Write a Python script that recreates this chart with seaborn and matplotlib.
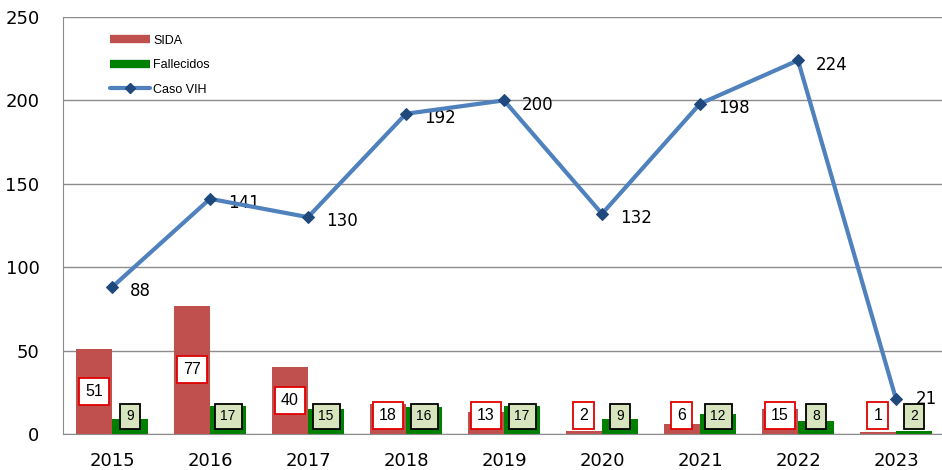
import matplotlib
matplotlib.use("Agg")
import matplotlib.pyplot as plt
from matplotlib.lines import Line2D
import numpy as np
import pandas as pd
import seaborn as sns

# datos
years = ["2015", "2016", "2017", "2018", "2019", "2020", "2021", "2022", "2023"]
sida = [51, 77, 40, 18, 13, 2, 6, 15, 1]
fallecidos = [9, 17, 15, 16, 17, 9, 12, 8, 2]
caso_vih = [88, 141, 130, 192, 200, 132, 198, 224, 21]

c_sida = "#C0504D"
c_fall = "#008000"
c_vih = "#4F81BD"
c_mark = "#1F497D"

df = pd.DataFrame({
    "year": years * 2,
    "valor": sida + fallecidos,
    "serie": ["SIDA"] * len(years) + ["Fallecidos"] * len(years),
})

sns.set_style("white")
plt.rcParams["font.family"] = ["DejaVu Sans"]
plt.rcParams["text.color"] = "black"
plt.rcParams["xtick.color"] = "black"
plt.rcParams["ytick.color"] = "black"

fig = plt.figure(figsize=(9.42, 4.70), dpi=100)
ax = fig.add_axes([63 / 942, 1 - 434 / 470, 882 / 942, 417 / 470])

sns.barplot(data=df, x="year", y="valor", hue="serie", order=years,
            hue_order=["SIDA", "Fallecidos"], palette=[c_sida, c_fall],
            width=0.74, saturation=1, errorbar=None, legend=False,
            linewidth=0, ax=ax)

xs = np.arange(len(years))
sns.lineplot(x=xs, y=caso_vih, color=c_vih, linewidth=3, marker="D",
             markersize=6, markerfacecolor=c_mark, markeredgecolor=c_mark,
             ax=ax, zorder=5)

# etiquetas de la linea
for i, v in enumerate(caso_vih):
    if i == len(years) - 1:
        ax.annotate(str(v), (i, v), xytext=(14, 0), textcoords="offset points",
                    ha="left", va="center", fontsize=12)
    else:
        ax.annotate(str(v), (i, v), xytext=(13, -3), textcoords="offset points",
                    ha="left", va="center", fontsize=12)

# etiquetas de las barras
bw = 0.37
for i in range(len(years)):
    ax.text(i - bw / 2, max(sida[i] / 2, 11), str(sida[i]), ha="center",
            va="center", fontsize=11.5, family=["Liberation Sans"],
            bbox=dict(boxstyle="square,pad=0.38", fc="white", ec="#E00000", lw=1.3),
            zorder=6)
    ax.text(i + bw / 2, 10.5, str(fallecidos[i]), ha="center", va="center",
            fontsize=10, family=["Liberation Sans"],
            bbox=dict(boxstyle="square,pad=0.42", fc="#D7E4BD", ec="black", lw=1.3),
            zorder=6)

ax.set_ylim(0, 250)
ax.set_xlim(-0.5, len(years) - 0.5)
ax.set_yticks([0, 50, 100, 150, 200, 250])
ax.yaxis.grid(True, color="#8C8C8C", linewidth=1)
ax.set_axisbelow(True)
ax.set_xlabel("")
ax.set_ylabel("")
ax.tick_params(axis="both", labelsize=13, length=0)
ax.tick_params(axis="x", pad=13)
ax.tick_params(axis="y", pad=17)
for s in ["top", "right"]:
    ax.spines[s].set_visible(False)
ax.spines["left"].set_color("#8C8C8C")
ax.spines["bottom"].set_color("#8C8C8C")

handles = [
    Line2D([], [], color=c_sida, lw=6, solid_capstyle="butt"),
    Line2D([], [], color=c_fall, lw=6, solid_capstyle="butt"),
    Line2D([], [], color=c_vih, lw=3, marker="D", markersize=5,
           markerfacecolor=c_mark, markeredgecolor=c_mark),
]
leg = ax.legend(handles, ["SIDA", "Fallecidos", "Caso VIH"], loc="upper left",
                bbox_to_anchor=(0.04, 0.985), frameon=False, handlelength=3.2,
                handletextpad=0.3, labelspacing=1.0,
                prop={"family": "Liberation Sans", "size": 9})

fig.savefig("out.png", dpi=100)
